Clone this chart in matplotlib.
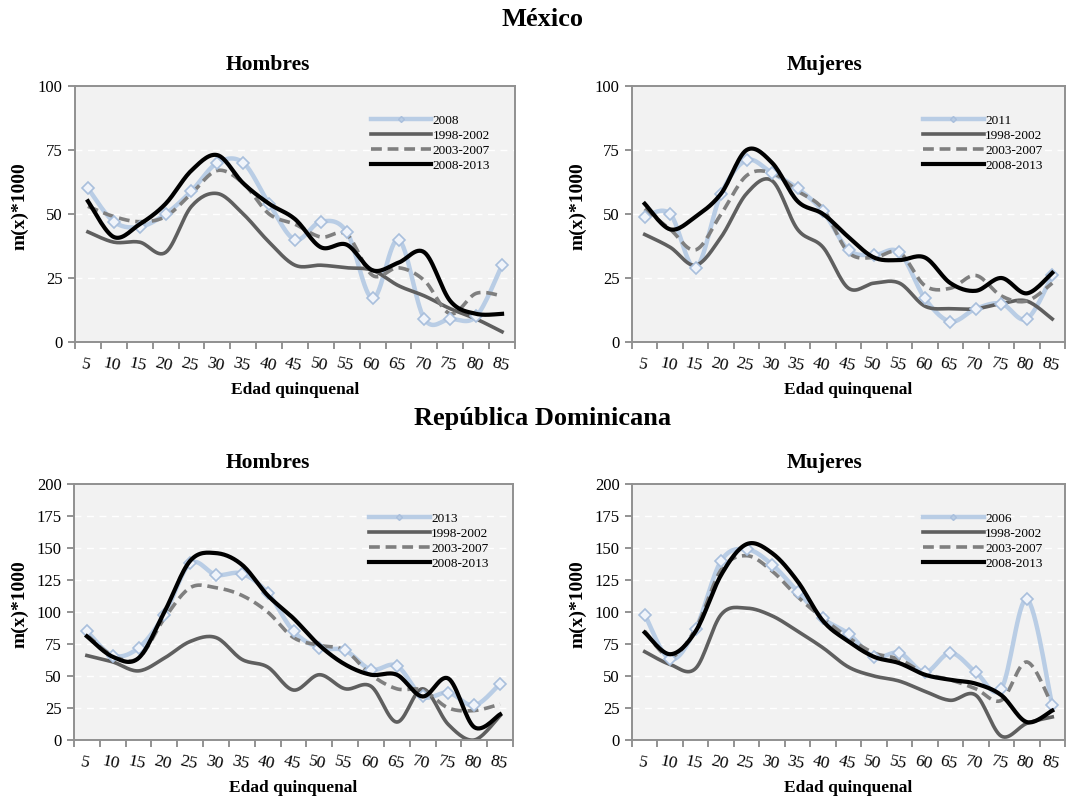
import numpy as np
import matplotlib
matplotlib.use('Agg')
import matplotlib.pyplot as plt

plt.rcParams['font.family'] = ['Liberation Serif', 'DejaVu Serif']

edades = ['5', '10', '15', '20', '25', '30', '35', '40', '45', '50', '55', '60', '65', '70', '75', '80', '85']

# México - Hombres
mex_h_2008 = [60, 47, 45, 50, 59, 70, 70, 54, 40, 47, 43, 17, 40, 9, 9, 10, 30]
mex_h_9802 = [43, 39, 39, 35, 53, 58, 50, 39, 30, 30, 29, 28, 22, 18, 13, 9, 4]
mex_h_0307 = [53, 49, 47, 49, 58, 67, 62, 50, 46, 41, 42, 26, 29, 24, 11, 19, 18]
mex_h_0813 = [55, 41, 46, 54, 67, 73, 62, 54, 48, 37, 38, 28, 31, 35, 16, 11, 11]

# México - Mujeres
mex_m_2011 = [49, 50, 29, 58, 71, 66, 60, 51, 36, 34, 35, 17, 8, 13, 15, 9, 26]
mex_m_9802 = [42, 37, 30, 41, 58, 63, 44, 37, 21, 23, 23, 14, 13, 13, 15, 16, 9]
mex_m_0307 = [52, 44, 36, 50, 65, 66, 59, 52, 35, 33, 35, 22, 21, 26, 18, 16, 23]
mex_m_0813 = [54, 44, 49, 58, 75, 70, 55, 50, 41, 33, 32, 33, 23, 20, 25, 19, 27]

# República Dominicana - Hombres
rd_h_2013 = [85, 66, 72, 98, 138, 129, 130, 115, 85, 72, 70, 55, 58, 34, 37, 27, 44]
rd_h_9802 = [66, 61, 54, 64, 77, 80, 63, 57, 39, 51, 40, 42, 14, 40, 12, 0, 19]
rd_h_0307 = [82, 66, 64, 95, 119, 119, 113, 100, 80, 74, 70, 51, 40, 39, 25, 23, 28]
rd_h_0813 = [81, 65, 64, 100, 140, 146, 137, 113, 95, 74, 59, 51, 51, 34, 48, 10, 20]

# República Dominicana - Mujeres
rd_m_2006 = [98, 63, 87, 140, 149, 137, 116, 95, 83, 65, 68, 53, 68, 53, 40, 110, 27]
rd_m_9802 = [69, 59, 56, 98, 103, 97, 85, 72, 57, 50, 46, 38, 31, 35, 3, 13, 18]
rd_m_0307 = [85, 65, 87, 133, 144, 132, 112, 95, 80, 68, 63, 52, 47, 40, 31, 61, 27]
rd_m_0813 = [84, 67, 85, 129, 153, 146, 124, 93, 77, 65, 60, 51, 47, 44, 35, 14, 23]


def suavizar(x, y, n=16):
    # curva suavizada tipo Excel (Catmull-Rom) que pasa por los puntos
    pts = np.column_stack([x, y]).astype(float)
    p = np.vstack([pts[0], pts, pts[-1]])
    t = np.linspace(0, 1, n, endpoint=False)[:, None]
    out = []
    for i in range(1, len(p) - 2):
        p0, p1, p2, p3 = p[i - 1], p[i], p[i + 1], p[i + 2]
        seg = 0.5 * ((2 * p1) + (-p0 + p2) * t + (2 * p0 - 5 * p1 + 4 * p2 - p3) * t ** 2
                     + (-p0 + 3 * p1 - 3 * p2 + p3) * t ** 3)
        out.append(seg)
    out.append(pts[-1][None])
    c = np.vstack(out)
    return c[:, 0], c[:, 1]


def panel(fig, rect, titulo, tx, ty, ylx, anio, s_anio, s1, s2, s3, ymax):
    ax = fig.add_axes(rect)
    ax.set_facecolor('#f2f2f2')
    x = np.arange(len(edades))
    for y_ in np.arange(25, ymax, 25):
        ax.axhline(y_, color='white', lw=1.0, ls=(0, (5, 4)), zorder=0)

    xs, ys = suavizar(x, s_anio)
    ax.plot(xs, ys, color='#b9cde5', lw=3.2, zorder=2)
    ax.plot(x, s_anio, ls='none', marker='D', ms=6, mfc='#f0f4fa', mec='#a9bfdc', mew=1.2, zorder=3)
    xs, ys = suavizar(x, s1)
    ax.plot(xs, ys, color='#5f5f5f', lw=2.6, zorder=2)
    xs, ys = suavizar(x, s2)
    ax.plot(xs, ys, color='#7f7f7f', lw=2.6, ls=(0, (3, 1.6)), zorder=2)
    xs, ys = suavizar(x, s3)
    ax.plot(xs, ys, color='black', lw=3.0, zorder=4)

    # legend handles
    h0, = ax.plot([], [], color='#b9cde5', lw=3.2, marker='D', ms=3, mfc='#b9cde5', mec='#a9bfdc')
    h1, = ax.plot([], [], color='#5f5f5f', lw=2.6)
    h2, = ax.plot([], [], color='#7f7f7f', lw=2.6, ls=(0, (3, 1.6)))
    h3, = ax.plot([], [], color='black', lw=3.0)
    ax.legend([h0, h1, h2, h3], [anio, '1998-2002', '2003-2007', '2008-2013'],
              loc='upper left', bbox_to_anchor=(0.672, 0.888), frameon=False,
              fontsize=9.5, handlelength=4.6, handletextpad=0.1, labelspacing=0.2,
              borderpad=0, borderaxespad=0, numpoints=1)

    ax.set_xlim(-0.5, len(edades) - 0.5)
    ax.set_ylim(0, ymax)
    ax.set_yticks(np.arange(0, ymax + 1, 25))
    ax.tick_params(axis='y', labelsize=12, length=5, width=1.2, color='#808080', pad=4)
    ax.set_xticks(np.arange(-0.5, len(edades), 1.0))
    ax.set_xticklabels([])
    ax.tick_params(axis='x', which='major', length=5, width=1.2, color='#808080')
    ax.set_xticks(x, minor=True)
    ax.set_xticklabels(edades, minor=True, rotation=-12, rotation_mode='anchor',
                       ha='center', va='top')
    ax.tick_params(axis='x', which='minor', length=0, labelsize=12.5, pad=11)
    for sp in ax.spines.values():
        sp.set_color('#909090')
        sp.set_linewidth(1.4)
    ax.set_xlabel('Edad quinquenal', fontsize=12.5, fontweight='bold', labelpad=5)
    fig.text(tx, ty, titulo, ha='center', va='center', fontsize=15.5, fontweight='bold')
    fig.text(ylx, rect[1] + rect[3] / 2 + 8 / 796, 'm(x)*1000', rotation=90, ha='center',
             va='center', fontsize=14, fontweight='bold')
    return ax


W, H = 1067, 796
fig = plt.figure(figsize=(W / 100, H / 100), dpi=100)

panel(fig, [75 / W, 1 - 342 / H, 440 / W, 256 / H], 'Hombres', 268 / W, 1 - 65 / H, 20 / W,
      '2008', mex_h_2008, mex_h_9802, mex_h_0307, mex_h_0813, 100)
panel(fig, [632 / W, 1 - 342 / H, 433 / W, 256 / H], 'Mujeres', 825 / W, 1 - 65 / H, 578 / W,
      '2011', mex_m_2011, mex_m_9802, mex_m_0307, mex_m_0813, 100)
panel(fig, [74 / W, 1 - 740 / H, 439 / W, 256 / H], 'Hombres', 268 / W, 1 - 463 / H, 20 / W,
      '2013', rd_h_2013, rd_h_9802, rd_h_0307, rd_h_0813, 200)
panel(fig, [632 / W, 1 - 740 / H, 433 / W, 256 / H], 'Mujeres', 825 / W, 1 - 463 / H, 578 / W,
      '2006', rd_m_2006, rd_m_9802, rd_m_0307, rd_m_0813, 200)

fig.text(543 / W, 1 - 20 / H, 'México', ha='center', va='center', fontsize=19, fontweight='bold')
fig.text(543 / W, 1 - 418 / H, 'República Dominicana', ha='center', va='center', fontsize=19,
         fontweight='bold')

fig.savefig('out.png', dpi=100)
